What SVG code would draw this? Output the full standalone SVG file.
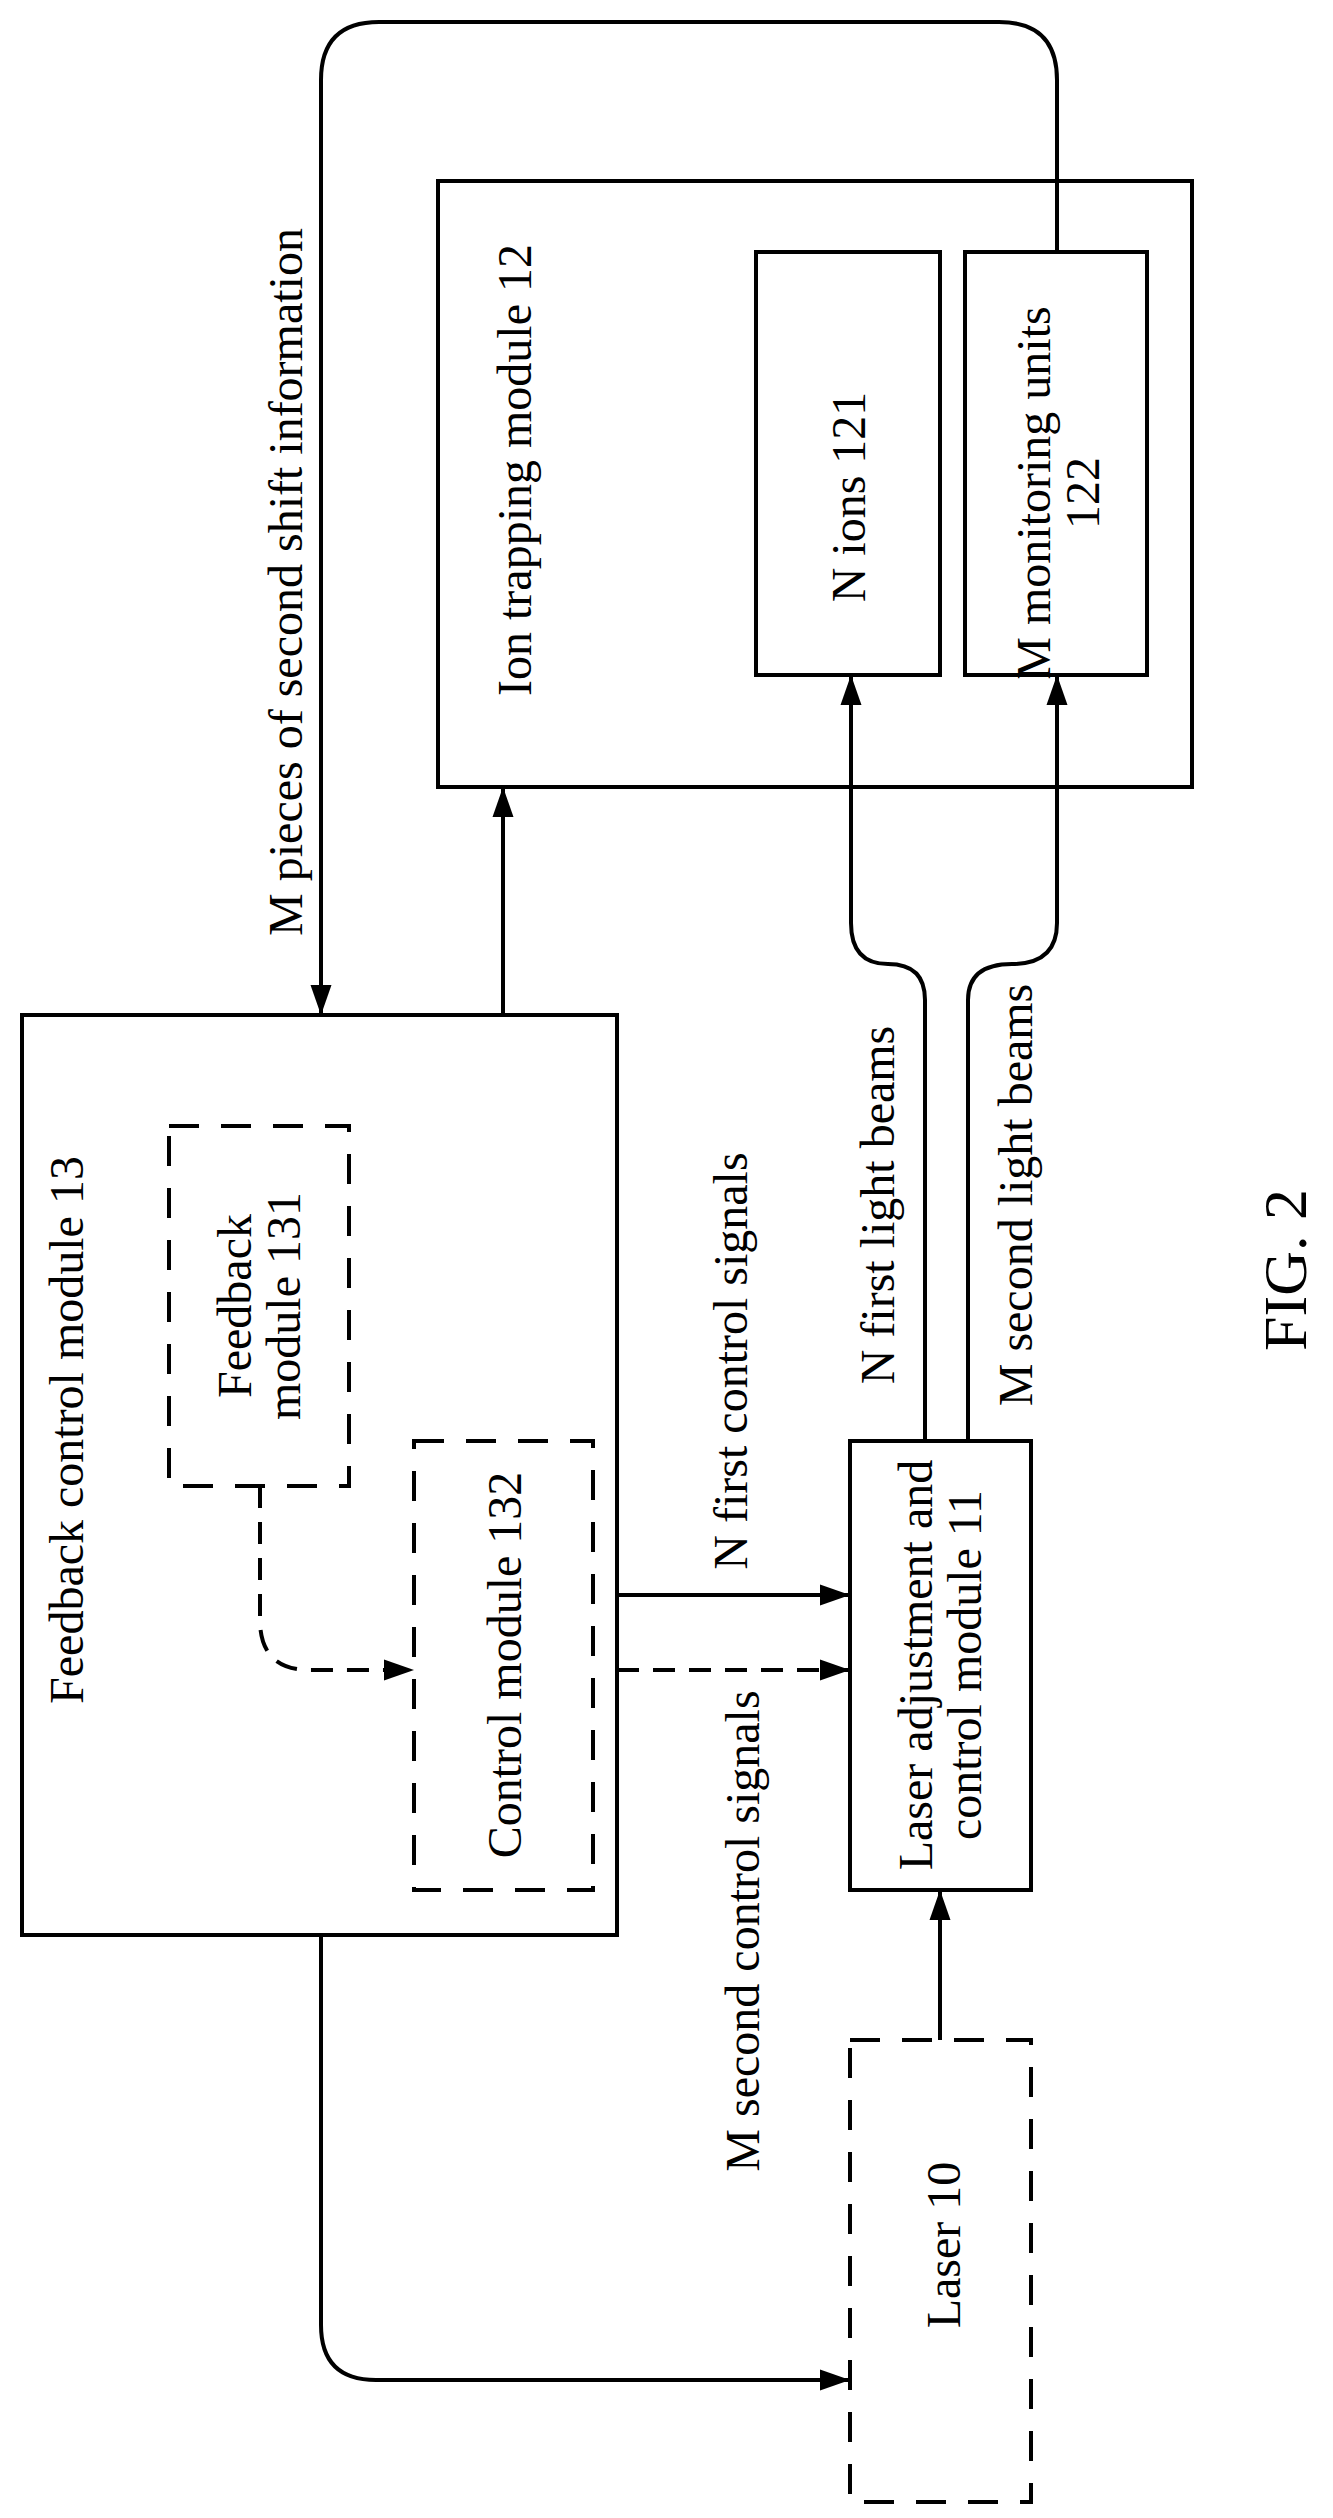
<svg xmlns="http://www.w3.org/2000/svg" width="1333" height="2518" viewBox="0 0 1333 2518">
<style>
.b{fill:none;stroke:#000;stroke-width:4}
.d{fill:none;stroke:#000;stroke-width:4;stroke-dasharray:30,22}
.l{fill:none;stroke:#000;stroke-width:4}
.ld{fill:none;stroke:#000;stroke-width:4;stroke-dasharray:22,14}
text{font-family:"Liberation Serif","Times New Roman",serif;font-size:48px;fill:#000;text-anchor:middle;dominant-baseline:central}
</style>
<defs>
<marker id="ah" viewBox="0 0 10 10" refX="10" refY="5" markerWidth="30" markerHeight="30" markerUnits="userSpaceOnUse" orient="auto"><path d="M0,1.5 L10,5 L0,8.5 z" fill="#000"/></marker>
</defs>
<g id="ion-trapping-module">
<rect class="b" x="438" y="181" width="754" height="606"/>
<text transform="translate(514,470) rotate(-90)">Ion trapping module 12</text>
</g>
<g id="n-ions">
<rect class="b" x="756" y="252" width="184" height="423"/>
<text transform="translate(848,497) rotate(-90)">N ions 121</text>
</g>
<g id="m-monitoring">
<rect class="b" x="965" y="252" width="182" height="423"/>
<text transform="translate(1033,493) rotate(-90)">M monitoring units</text>
<text transform="translate(1082,493) rotate(-90)">122</text>
</g>
<g id="feedback-control-module">
<rect class="b" x="22" y="1015" width="595" height="920"/>
<text transform="translate(66,1430) rotate(-90)">Feedback control module 13</text>
</g>
<g id="feedback-module">
<rect class="d" x="169" y="1126" width="180" height="360"/>
<text transform="translate(234,1306) rotate(-90)">Feedback</text>
<text transform="translate(283,1306) rotate(-90)">module 131</text>
</g>
<g id="control-module">
<rect class="d" x="414" y="1441" width="179" height="449"/>
<text transform="translate(504,1665) rotate(-90)">Control module 132</text>
</g>
<g id="laser-adjustment">
<rect class="b" x="850" y="1441" width="181" height="449"/>
<text transform="translate(915,1665) rotate(-90)">Laser adjustment and</text>
<text transform="translate(964,1665) rotate(-90)">control module 11</text>
</g>
<g id="laser">
<rect class="d" x="850" y="2040" width="181" height="462"/>
<text transform="translate(943,2245) rotate(-90)">Laser 10</text>
</g>
<g id="connectors">
<path class="l" d="M1057,252 V80 Q1057,22 999,22 H379 Q321,22 321,80 V1015" marker-end="url(#ah)"/>
<path class="l" d="M503,1015 V787" marker-end="url(#ah)"/>
<path class="l" d="M925,1441 V1000 Q925,964 888,964 Q851,964 851,923 V675" marker-end="url(#ah)"/>
<path class="l" d="M968,1441 V1000 Q968,964 1012,964 Q1057,964 1057,923 V675" marker-end="url(#ah)"/>
<path class="l" d="M617,1595 H850" marker-end="url(#ah)"/>
<path class="ld" d="M617,1670 H850" marker-end="url(#ah)"/>
<path class="ld" d="M260,1486 V1620 Q260,1670 310,1670 H414" marker-end="url(#ah)"/>
<path class="l" d="M940,2040 V1890" marker-end="url(#ah)"/>
<path class="l" d="M321,1935 V2325 Q321,2380 376,2380 H850" marker-end="url(#ah)"/>
</g>
<g id="labels">
<text transform="translate(285,582) rotate(-90)">M pieces of second shift information</text>
<text transform="translate(730,1361) rotate(-90)">N first control signals</text>
<text transform="translate(742,1931) rotate(-90)">M second control signals</text>
<text transform="translate(877,1205) rotate(-90)">N first light beams</text>
<text transform="translate(1015,1195) rotate(-90)">M second light beams</text>
<text transform="translate(1285,1270) rotate(-90)" style="font-size:62px">FIG. 2</text>
</g>
</svg>
